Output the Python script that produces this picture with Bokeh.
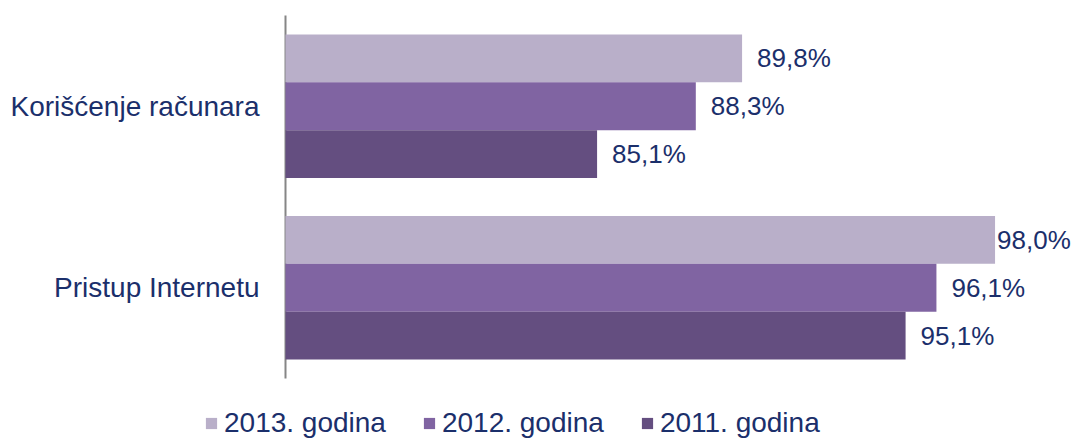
from bokeh.plotting import figure
from bokeh.models import ColumnDataSource, Range1d, Legend, LegendItem
from bokeh.core.properties import value
from bokeh.embed import file_html
from bokeh.resources import INLINE

categories = ["Korišćenje računara", "Pristup Internetu"]
years = ["2013. godina", "2012. godina", "2011. godina"]
v2013 = [89.8, 98.0]
v2012 = [88.3, 96.1]
v2011 = [85.1, 95.1]
colors = ["#B9AFC9", "#8064A2", "#644E80"]

FONT = "Liberation Sans"
NAVY = "#1B2F6B"

series = [v2013, v2012, v2011]
offsets = [-0.264, 0.0, 0.264]   # within each category band (band = 1 unit, top to bottom)
BAR_H = 0.264
X_BASE = 75.0                    # value axis starts at 75 %

W, H = 1072, 439
px_per_unit_x = 30.85
px_per_band = 181.5
axis_px = 285
top_px = 15

x_start = X_BASE - axis_px / px_per_unit_x
x_end = X_BASE + (W - axis_px) / px_per_unit_x
y_top = -top_px / px_per_band
y_bottom = (H - top_px) / px_per_band

p = figure(width=W, height=H, output_backend="svg", toolbar_location=None,
           x_range=Range1d(x_start, x_end), y_range=Range1d(y_bottom, y_top),
           min_border=0, min_border_left=0, min_border_right=0,
           min_border_top=0, min_border_bottom=0)
p.outline_line_color = None
p.grid.visible = False
p.xaxis.visible = False
p.yaxis.visible = False
p.background_fill_color = "white"
p.border_fill_color = "white"

cat_y = [i + 0.5 for i in range(len(categories))]
n_cat = len(categories)

# category axis line
p.segment(x0=[X_BASE], y0=[0], x1=[X_BASE], y1=[n_cat], line_color="#868686", line_width=2)

# category labels
p.text(x=[X_BASE] * n_cat, y=cat_y, text=categories, x_offset=-26,
       text_align="right", text_baseline="middle", text_font=value(FONT),
       text_font_size="28px", text_color=NAVY)

items = []
for name, vals, col, off in zip(years, series, colors, offsets):
    labels = [f"{v:.1f}%".replace(".", ",") for v in vals]
    xoffs = [15 if v < 97 else 2 for v in vals]
    ys = [c + off for c in cat_y]
    src = ColumnDataSource(dict(y=ys, val=vals, lab=labels, xo=xoffs, base=[X_BASE] * n_cat))
    r = p.hbar(y="y", right="val", left="base", height=BAR_H,
               fill_color=col, line_color=None, source=src)
    p.text(x="val", y="y", text="lab", x_offset="xo",
           text_align="left", text_baseline="middle", text_font=value(FONT),
           text_font_size="26px", text_color=NAVY, source=src)
    items.append(LegendItem(label=name, renderers=[r]))

legend = Legend(items=items, location=(204, 0), orientation="horizontal",
                glyph_width=14, glyph_height=14, label_standoff=6, spacing=36,
                padding=0, margin=0, label_height=28,
                label_text_font=FONT, label_text_font_size="28px", label_text_color=NAVY,
                border_line_alpha=0, background_fill_alpha=0)
p.add_layout(legend, "center")

open("out.html", "w").write(file_html(p, INLINE))
